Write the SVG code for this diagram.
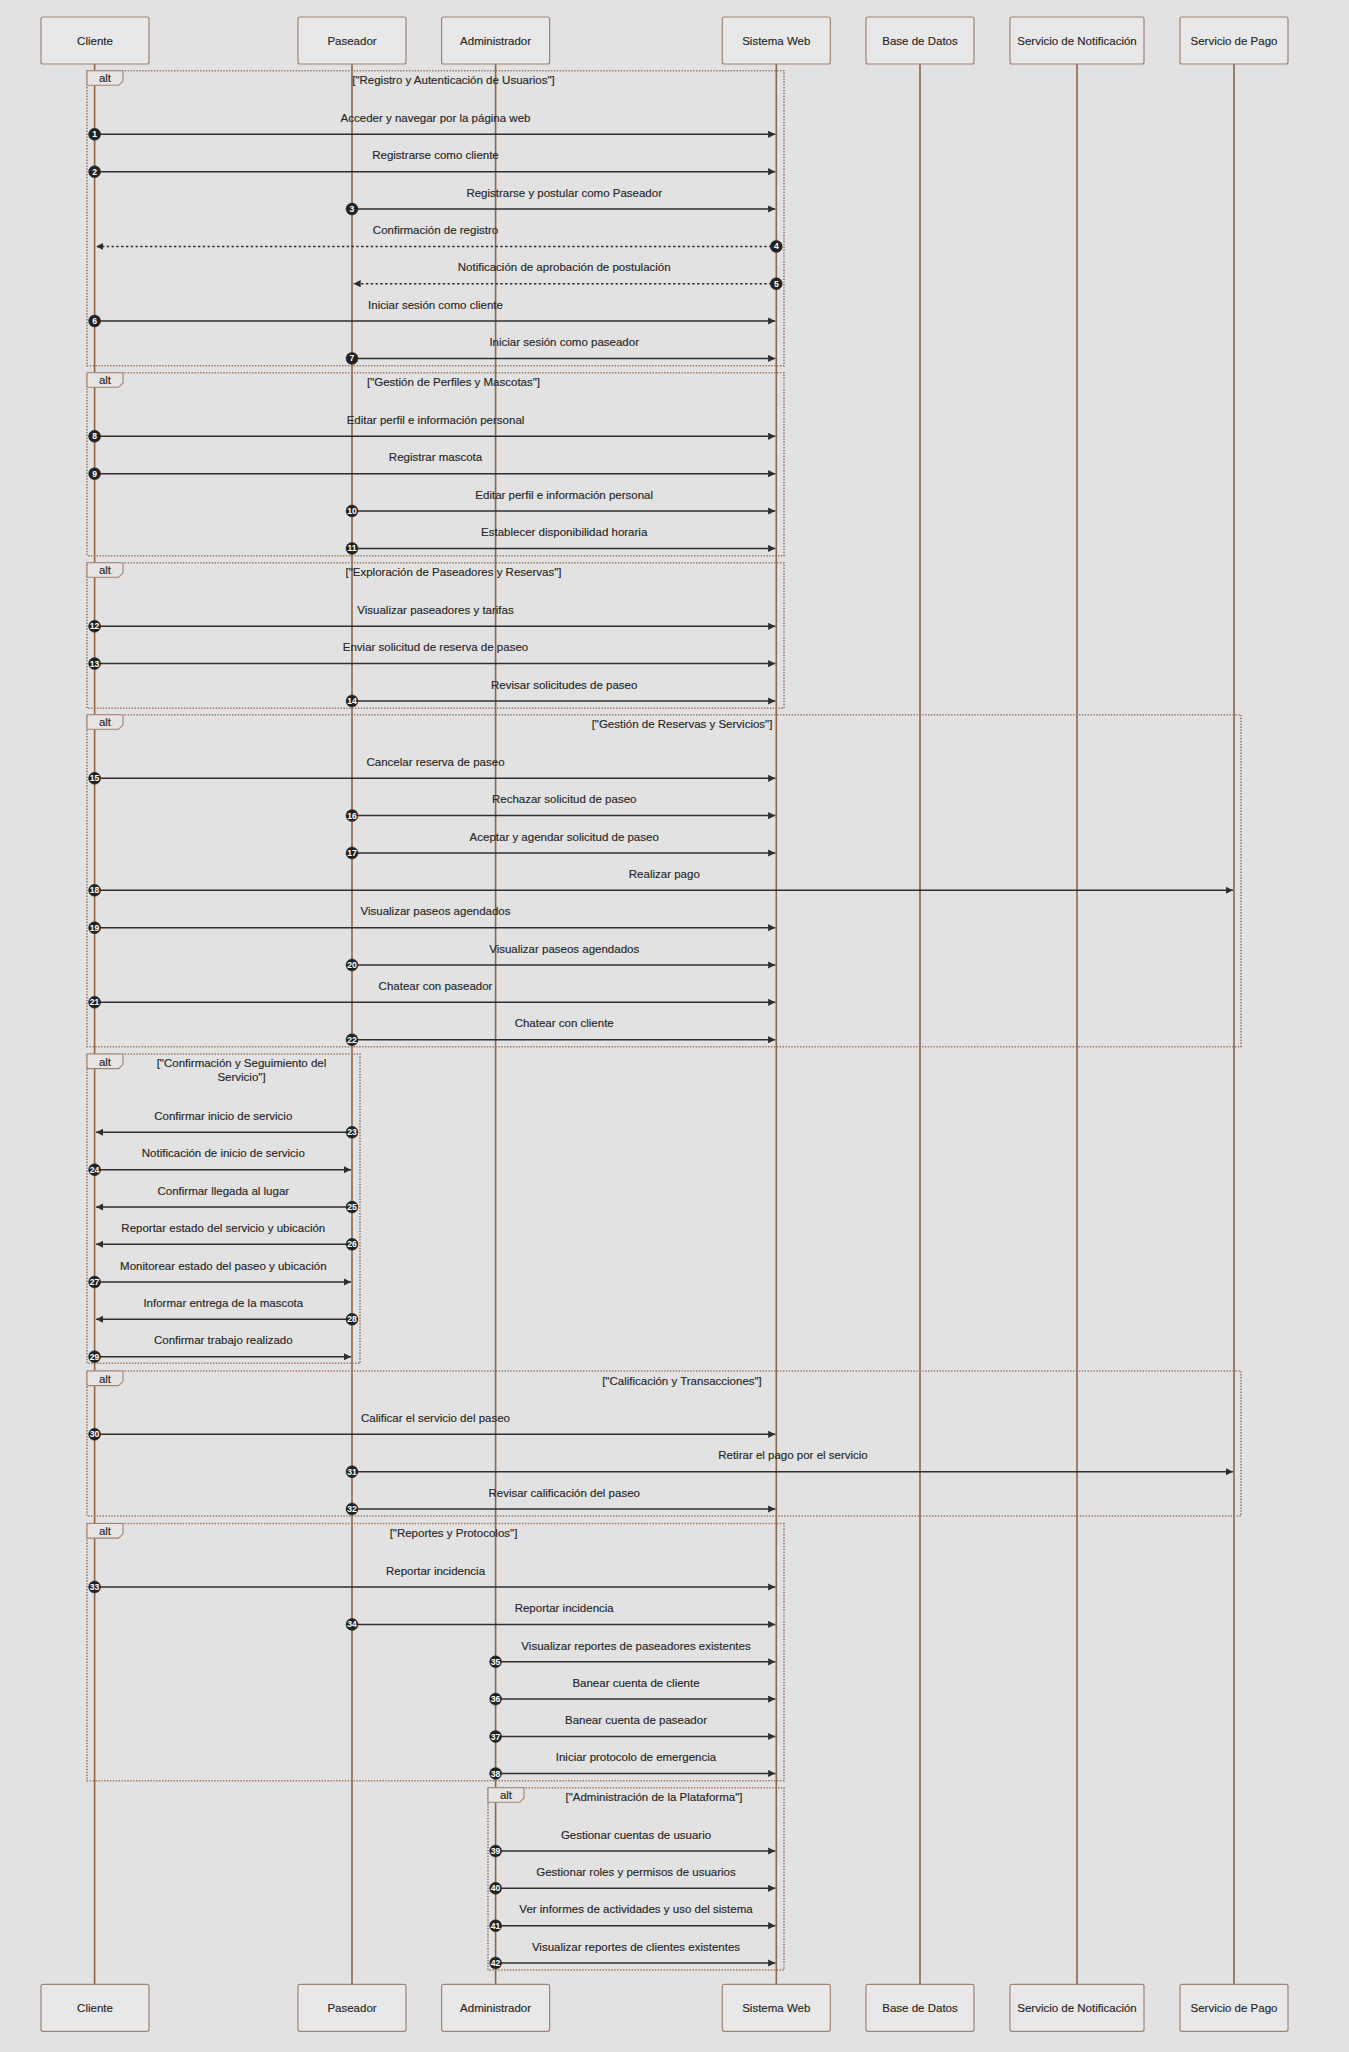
<svg xmlns="http://www.w3.org/2000/svg" width="1349" height="2052" viewBox="0 0 1349 2052">
<defs>
<style>
.bg{fill:#e2e2e2}
.actor rect{fill:#e9e8e8;stroke:#a08472;stroke-width:1.2}
text{font-family:"Liberation Sans",Arial,sans-serif;font-size:11.5px;fill:#262626;text-anchor:middle;dominant-baseline:central;stroke:#262626;stroke-width:0.15}
.life{stroke:#8d6547;stroke-width:1.6}
.frame rect.box{fill:none;stroke:#957764;stroke-width:1.6;stroke-dasharray:1.4 1.5}
.frame polygon{fill:#e7e5e4;stroke:#a08472;stroke-width:1.1}
.msg line{stroke:#2e2e2e;stroke-width:1.5;marker-end:url(#arrow)}
.msg line.dash{stroke-dasharray:2.4 2.4}
.msg circle{fill:#222;stroke:#222;stroke-width:0.5}
.msg text.num{fill:#fff;stroke:none;font-size:8.6px;font-weight:bold}
</style>
<marker id="arrow" markerUnits="userSpaceOnUse" markerWidth="8" markerHeight="8" refX="7.2" refY="3.6" orient="auto">
<path d="M0,0 L7.2,3.6 L0,7.2 z" fill="#2e2e2e"/>
</marker>
</defs>
<rect class="bg" x="0" y="0" width="1349" height="2052"/>

<!-- lifelines -->
<g id="lifelines">
<line class="life" x1="94.6" y1="64" x2="94.6" y2="1984"/>
<line class="life" x1="352" y1="64" x2="352" y2="1984"/>
<line class="life" x1="495.6" y1="64" x2="495.6" y2="1984"/>
<line class="life" x1="776.3" y1="64" x2="776.3" y2="1984"/>
<line class="life" x1="920" y1="64" x2="920" y2="1984"/>
<line class="life" x1="1077" y1="64" x2="1077" y2="1984"/>
<line class="life" x1="1234" y1="64" x2="1234" y2="1984"/>
</g>

<!-- alt fragments -->
<g id="fragments">
<g id="alt-registro" class="frame">
<rect class="box" x="87" y="70.7" width="697" height="295"/>
<polygon points="87,70.7 123,70.7 123,81 118.6,85.3 87,85.3"/>
<text x="105" y="78.2">alt</text>
<text x="453.5" y="80.4">["Registro y Autenticación de Usuarios"]</text>
</g>
<g id="alt-perfiles" class="frame">
<rect class="box" x="87" y="372.7" width="697" height="183"/>
<polygon points="87,372.7 123,372.7 123,383 118.6,387.3 87,387.3"/>
<text x="105" y="380.2">alt</text>
<text x="453.5" y="382.4">["Gestión de Perfiles y Mascotas"]</text>
</g>
<g id="alt-exploracion" class="frame">
<rect class="box" x="87" y="562.7" width="697" height="145.6"/>
<polygon points="87,562.7 123,562.7 123,573 118.6,577.3 87,577.3"/>
<text x="105" y="570.2">alt</text>
<text x="453.5" y="572.4">["Exploración de Paseadores y Reservas"]</text>
</g>
<g id="alt-reservas" class="frame">
<rect class="box" x="87" y="714.7" width="1154" height="332"/>
<polygon points="87,714.7 123,714.7 123,725 118.6,729.3 87,729.3"/>
<text x="105" y="722.2">alt</text>
<text x="682" y="724.4">["Gestión de Reservas y Servicios"]</text>
</g>
<g id="alt-seguimiento" class="frame">
<rect class="box" x="87" y="1054" width="273" height="309.3"/>
<polygon points="87,1054 123,1054 123,1064.3 118.6,1068.6 87,1068.6"/>
<text x="105" y="1061.5">alt</text>
<text x="241.5" y="1063.3">["Confirmación y Seguimiento del</text>
<text x="241.5" y="1077.3">Servicio"]</text>
</g>
<g id="alt-calificacion" class="frame">
<rect class="box" x="87" y="1371" width="1154" height="145"/>
<polygon points="87,1371 123,1371 123,1381.3 118.6,1385.6 87,1385.6"/>
<text x="105" y="1378.5">alt</text>
<text x="682" y="1380.7">["Calificación y Transacciones"]</text>
</g>
<g id="alt-reportes" class="frame">
<rect class="box" x="87" y="1523.5" width="697" height="257.2"/>
<polygon points="87,1523.5 123,1523.5 123,1533.8 118.6,1538.1 87,1538.1"/>
<text x="105" y="1531">alt</text>
<text x="453.5" y="1533.2">["Reportes y Protocolos"]</text>
</g>
<g id="alt-administracion" class="frame">
<rect class="box" x="488" y="1787.7" width="296" height="182.3"/>
<polygon points="488,1787.7 524,1787.7 524,1798 519.6,1802.3 488,1802.3"/>
<text x="506" y="1795.2">alt</text>
<text x="654" y="1797.4">["Administración de la Plataforma"]</text>
</g>
</g>

<!-- messages -->
<g id="messages">
<g id="m1" class="msg"><line x1="94.6" y1="134.3" x2="775.3" y2="134.3"/><circle cx="94.6" cy="134.3" r="6"/><text class="num" x="94.6" y="134.3">1</text><text x="435.5" y="118">Acceder y navegar por la página web</text></g>
<g id="m2" class="msg"><line x1="94.6" y1="171.7" x2="775.3" y2="171.7"/><circle cx="94.6" cy="171.7" r="6"/><text class="num" x="94.6" y="171.7">2</text><text x="435.5" y="155.4">Registrarse como cliente</text></g>
<g id="m3" class="msg"><line x1="352" y1="209" x2="775.3" y2="209"/><circle cx="352" cy="209" r="6"/><text class="num" x="352" y="209">3</text><text x="564.2" y="192.7">Registrarse y postular como Paseador</text></g>
<g id="m4" class="msg"><line class="dash" x1="776.3" y1="246.4" x2="96.1" y2="246.4"/><circle cx="776.3" cy="246.4" r="6"/><text class="num" x="776.3" y="246.4">4</text><text x="435.5" y="230.1">Confirmación de registro</text></g>
<g id="m5" class="msg"><line class="dash" x1="776.3" y1="283.7" x2="353.5" y2="283.7"/><circle cx="776.3" cy="283.7" r="6"/><text class="num" x="776.3" y="283.7">5</text><text x="564.2" y="267.4">Notificación de aprobación de postulación</text></g>
<g id="m6" class="msg"><line x1="94.6" y1="321" x2="775.3" y2="321"/><circle cx="94.6" cy="321" r="6"/><text class="num" x="94.6" y="321">6</text><text x="435.5" y="304.7">Iniciar sesión como cliente</text></g>
<g id="m7" class="msg"><line x1="352" y1="358.4" x2="775.3" y2="358.4"/><circle cx="352" cy="358.4" r="6"/><text class="num" x="352" y="358.4">7</text><text x="564.2" y="342.1">Iniciar sesión como paseador</text></g>

<g id="m8" class="msg"><line x1="94.6" y1="436.3" x2="775.3" y2="436.3"/><circle cx="94.6" cy="436.3" r="6"/><text class="num" x="94.6" y="436.3">8</text><text x="435.5" y="420">Editar perfil e información personal</text></g>
<g id="m9" class="msg"><line x1="94.6" y1="473.7" x2="775.3" y2="473.7"/><circle cx="94.6" cy="473.7" r="6"/><text class="num" x="94.6" y="473.7">9</text><text x="435.5" y="457.4">Registrar mascota</text></g>
<g id="m10" class="msg"><line x1="352" y1="511" x2="775.3" y2="511"/><circle cx="352" cy="511" r="6"/><text class="num" x="352" y="511">10</text><text x="564.2" y="494.7">Editar perfil e información personal</text></g>
<g id="m11" class="msg"><line x1="352" y1="548.4" x2="775.3" y2="548.4"/><circle cx="352" cy="548.4" r="6"/><text class="num" x="352" y="548.4">11</text><text x="564.2" y="532.1">Establecer disponibilidad horaria</text></g>

<g id="m12" class="msg"><line x1="94.6" y1="626.3" x2="775.3" y2="626.3"/><circle cx="94.6" cy="626.3" r="6"/><text class="num" x="94.6" y="626.3">12</text><text x="435.5" y="610">Visualizar paseadores y tarifas</text></g>
<g id="m13" class="msg"><line x1="94.6" y1="663.6" x2="775.3" y2="663.6"/><circle cx="94.6" cy="663.6" r="6"/><text class="num" x="94.6" y="663.6">13</text><text x="435.5" y="647.3">Enviar solicitud de reserva de paseo</text></g>
<g id="m14" class="msg"><line x1="352" y1="701" x2="775.3" y2="701"/><circle cx="352" cy="701" r="6"/><text class="num" x="352" y="701">14</text><text x="564.2" y="684.7">Revisar solicitudes de paseo</text></g>

<g id="m15" class="msg"><line x1="94.6" y1="778.3" x2="775.3" y2="778.3"/><circle cx="94.6" cy="778.3" r="6"/><text class="num" x="94.6" y="778.3">15</text><text x="435.5" y="762">Cancelar reserva de paseo</text></g>
<g id="m16" class="msg"><line x1="352" y1="815.6" x2="775.3" y2="815.6"/><circle cx="352" cy="815.6" r="6"/><text class="num" x="352" y="815.6">16</text><text x="564.2" y="799.3">Rechazar solicitud de paseo</text></g>
<g id="m17" class="msg"><line x1="352" y1="853" x2="775.3" y2="853"/><circle cx="352" cy="853" r="6"/><text class="num" x="352" y="853">17</text><text x="564.2" y="836.7">Aceptar y agendar solicitud de paseo</text></g>
<g id="m18" class="msg"><line x1="94.6" y1="890.3" x2="1233" y2="890.3"/><circle cx="94.6" cy="890.3" r="6"/><text class="num" x="94.6" y="890.3">18</text><text x="664.3" y="874">Realizar pago</text></g>
<g id="m19" class="msg"><line x1="94.6" y1="927.7" x2="775.3" y2="927.7"/><circle cx="94.6" cy="927.7" r="6"/><text class="num" x="94.6" y="927.7">19</text><text x="435.5" y="911.4">Visualizar paseos agendados</text></g>
<g id="m20" class="msg"><line x1="352" y1="965" x2="775.3" y2="965"/><circle cx="352" cy="965" r="6"/><text class="num" x="352" y="965">20</text><text x="564.2" y="948.7">Visualizar paseos agendados</text></g>
<g id="m21" class="msg"><line x1="94.6" y1="1002.3" x2="775.3" y2="1002.3"/><circle cx="94.6" cy="1002.3" r="6"/><text class="num" x="94.6" y="1002.3">21</text><text x="435.5" y="986">Chatear con paseador</text></g>
<g id="m22" class="msg"><line x1="352" y1="1039.7" x2="775.3" y2="1039.7"/><circle cx="352" cy="1039.7" r="6"/><text class="num" x="352" y="1039.7">22</text><text x="564.2" y="1023.4">Chatear con cliente</text></g>

<g id="m23" class="msg"><line x1="352" y1="1132.3" x2="96.1" y2="1132.3"/><circle cx="352" cy="1132.3" r="6"/><text class="num" x="352" y="1132.3">23</text><text x="223.3" y="1116">Confirmar inicio de servicio</text></g>
<g id="m24" class="msg"><line x1="94.6" y1="1169.7" x2="351" y2="1169.7"/><circle cx="94.6" cy="1169.7" r="6"/><text class="num" x="94.6" y="1169.7">24</text><text x="223.3" y="1153.4">Notificación de inicio de servicio</text></g>
<g id="m25" class="msg"><line x1="352" y1="1207" x2="96.1" y2="1207"/><circle cx="352" cy="1207" r="6"/><text class="num" x="352" y="1207">25</text><text x="223.3" y="1190.7">Confirmar llegada al lugar</text></g>
<g id="m26" class="msg"><line x1="352" y1="1244.3" x2="96.1" y2="1244.3"/><circle cx="352" cy="1244.3" r="6"/><text class="num" x="352" y="1244.3">26</text><text x="223.3" y="1228">Reportar estado del servicio y ubicación</text></g>
<g id="m27" class="msg"><line x1="94.6" y1="1282" x2="351" y2="1282"/><circle cx="94.6" cy="1282" r="6"/><text class="num" x="94.6" y="1282">27</text><text x="223.3" y="1265.7">Monitorear estado del paseo y ubicación</text></g>
<g id="m28" class="msg"><line x1="352" y1="1319.3" x2="96.1" y2="1319.3"/><circle cx="352" cy="1319.3" r="6"/><text class="num" x="352" y="1319.3">28</text><text x="223.3" y="1303">Informar entrega de la mascota</text></g>
<g id="m29" class="msg"><line x1="94.6" y1="1356.7" x2="351" y2="1356.7"/><circle cx="94.6" cy="1356.7" r="6"/><text class="num" x="94.6" y="1356.7">29</text><text x="223.3" y="1340.4">Confirmar trabajo realizado</text></g>

<g id="m30" class="msg"><line x1="94.6" y1="1434.3" x2="775.3" y2="1434.3"/><circle cx="94.6" cy="1434.3" r="6"/><text class="num" x="94.6" y="1434.3">30</text><text x="435.5" y="1418">Calificar el servicio del paseo</text></g>
<g id="m31" class="msg"><line x1="352" y1="1471.7" x2="1233" y2="1471.7"/><circle cx="352" cy="1471.7" r="6"/><text class="num" x="352" y="1471.7">31</text><text x="793" y="1455.4">Retirar el pago por el servicio</text></g>
<g id="m32" class="msg"><line x1="352" y1="1509" x2="775.3" y2="1509"/><circle cx="352" cy="1509" r="6"/><text class="num" x="352" y="1509">32</text><text x="564.2" y="1492.7">Revisar calificación del paseo</text></g>

<g id="m33" class="msg"><line x1="94.6" y1="1587" x2="775.3" y2="1587"/><circle cx="94.6" cy="1587" r="6"/><text class="num" x="94.6" y="1587">33</text><text x="435.5" y="1570.7">Reportar incidencia</text></g>
<g id="m34" class="msg"><line x1="352" y1="1624.4" x2="775.3" y2="1624.4"/><circle cx="352" cy="1624.4" r="6"/><text class="num" x="352" y="1624.4">34</text><text x="564.2" y="1608.1">Reportar incidencia</text></g>
<g id="m35" class="msg"><line x1="495.6" y1="1661.8" x2="775.3" y2="1661.8"/><circle cx="495.6" cy="1661.8" r="6"/><text class="num" x="495.6" y="1661.8">35</text><text x="636" y="1645.5">Visualizar reportes de paseadores existentes</text></g>
<g id="m36" class="msg"><line x1="495.6" y1="1699.1" x2="775.3" y2="1699.1"/><circle cx="495.6" cy="1699.1" r="6"/><text class="num" x="495.6" y="1699.1">36</text><text x="636" y="1682.8">Banear cuenta de cliente</text></g>
<g id="m37" class="msg"><line x1="495.6" y1="1736.5" x2="775.3" y2="1736.5"/><circle cx="495.6" cy="1736.5" r="6"/><text class="num" x="495.6" y="1736.5">37</text><text x="636" y="1720.2">Banear cuenta de paseador</text></g>
<g id="m38" class="msg"><line x1="495.6" y1="1773.5" x2="775.3" y2="1773.5"/><circle cx="495.6" cy="1773.5" r="6"/><text class="num" x="495.6" y="1773.5">38</text><text x="636" y="1757.2">Iniciar protocolo de emergencia</text></g>

<g id="m39" class="msg"><line x1="495.6" y1="1851" x2="775.3" y2="1851"/><circle cx="495.6" cy="1851" r="6"/><text class="num" x="495.6" y="1851">39</text><text x="636" y="1834.7">Gestionar cuentas de usuario</text></g>
<g id="m40" class="msg"><line x1="495.6" y1="1888.3" x2="775.3" y2="1888.3"/><circle cx="495.6" cy="1888.3" r="6"/><text class="num" x="495.6" y="1888.3">40</text><text x="636" y="1872">Gestionar roles y permisos de usuarios</text></g>
<g id="m41" class="msg"><line x1="495.6" y1="1925.7" x2="775.3" y2="1925.7"/><circle cx="495.6" cy="1925.7" r="6"/><text class="num" x="495.6" y="1925.7">41</text><text x="636" y="1909.4">Ver informes de actividades y uso del sistema</text></g>
<g id="m42" class="msg"><line x1="495.6" y1="1963" x2="775.3" y2="1963"/><circle cx="495.6" cy="1963" r="6"/><text class="num" x="495.6" y="1963">42</text><text x="636" y="1946.7">Visualizar reportes de clientes existentes</text></g>
</g>

<!-- participants, top row -->
<g id="actor-cliente-top" class="actor"><rect x="41" y="17" width="108" height="47" rx="2"/><text x="95" y="40.5">Cliente</text></g>
<g id="actor-paseador-top" class="actor"><rect x="298" y="17" width="108" height="47" rx="2"/><text x="352" y="40.5">Paseador</text></g>
<g id="actor-administrador-top" class="actor"><rect x="441.6" y="17" width="108" height="47" rx="2"/><text x="495.6" y="40.5">Administrador</text></g>
<g id="actor-sistema-top" class="actor"><rect x="722.3" y="17" width="108" height="47" rx="2"/><text x="776.3" y="40.5">Sistema Web</text></g>
<g id="actor-bd-top" class="actor"><rect x="866" y="17" width="108" height="47" rx="2"/><text x="920" y="40.5">Base de Datos</text></g>
<g id="actor-notificacion-top" class="actor"><rect x="1010" y="17" width="134" height="47" rx="2"/><text x="1077" y="40.5">Servicio de Notificación</text></g>
<g id="actor-pago-top" class="actor"><rect x="1180" y="17" width="108" height="47" rx="2"/><text x="1234" y="40.5">Servicio de Pago</text></g>

<!-- participants, bottom row -->
<g id="actor-cliente-bottom" class="actor"><rect x="41" y="1984.3" width="108" height="47" rx="2"/><text x="95" y="2007.8">Cliente</text></g>
<g id="actor-paseador-bottom" class="actor"><rect x="298" y="1984.3" width="108" height="47" rx="2"/><text x="352" y="2007.8">Paseador</text></g>
<g id="actor-administrador-bottom" class="actor"><rect x="441.6" y="1984.3" width="108" height="47" rx="2"/><text x="495.6" y="2007.8">Administrador</text></g>
<g id="actor-sistema-bottom" class="actor"><rect x="722.3" y="1984.3" width="108" height="47" rx="2"/><text x="776.3" y="2007.8">Sistema Web</text></g>
<g id="actor-bd-bottom" class="actor"><rect x="866" y="1984.3" width="108" height="47" rx="2"/><text x="920" y="2007.8">Base de Datos</text></g>
<g id="actor-notificacion-bottom" class="actor"><rect x="1010" y="1984.3" width="134" height="47" rx="2"/><text x="1077" y="2007.8">Servicio de Notificación</text></g>
<g id="actor-pago-bottom" class="actor"><rect x="1180" y="1984.3" width="108" height="47" rx="2"/><text x="1234" y="2007.8">Servicio de Pago</text></g>
</svg>
